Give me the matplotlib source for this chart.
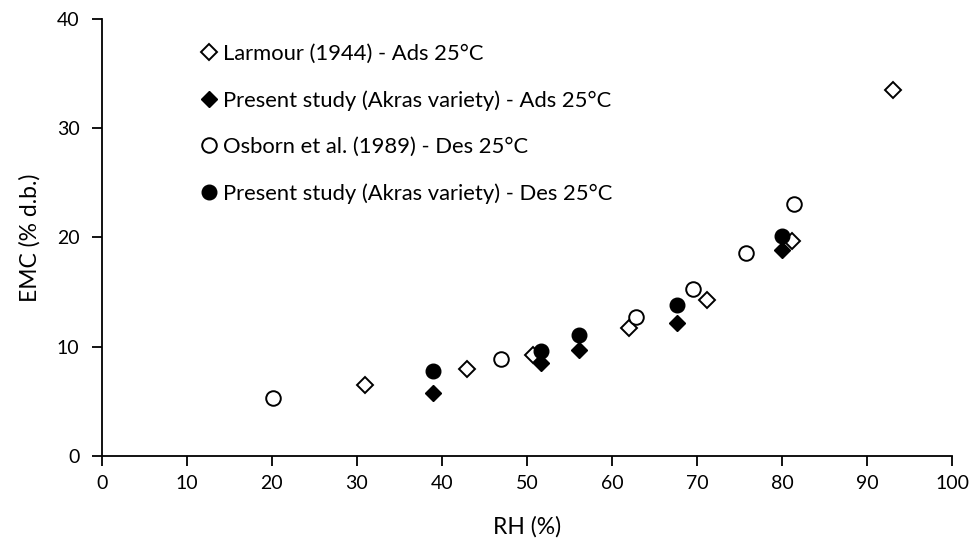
import matplotlib
matplotlib.use("Agg")
import matplotlib.pyplot as plt

plt.rcParams['font.family'] = ['Lato', 'DejaVu Sans']

# Larmour (1944) - adsorption 25 C
larmour_rh = [31, 43, 50.7, 62, 71.2, 81.1, 93]
larmour_emc = [6.5, 8.0, 9.2, 11.7, 14.3, 19.7, 33.5]

# present study - adsorption 25 C
ads_rh = [39, 51.7, 56.1, 67.6, 80]
ads_emc = [5.8, 8.5, 9.7, 12.2, 18.85]

# Osborn et al. (1989) - desorption 25 C
osborn_rh = [20.1, 46.9, 62.8, 69.5, 75.7, 81.4]
osborn_emc = [5.35, 8.9, 12.7, 15.3, 18.55, 23.05]

# present study - desorption 25 C
des_rh = [39, 51.7, 56.1, 67.6, 80]
des_emc = [7.8, 9.65, 11.1, 13.8, 20.1]

fig = plt.figure(figsize=(9.74, 5.42), dpi=100)
ax = fig.add_axes([0.1044, 0.1587, 0.8733, 0.8063])

ax.plot(larmour_rh, larmour_emc, 'D', ms=8, mfc='white', mec='black', mew=1.4,
        ls='none', label='Larmour (1944) - Ads 25°C')
ax.plot(ads_rh, ads_emc, 'D', ms=8, mfc='black', mec='black',
        ls='none', label='Present study (Akras variety) - Ads 25°C')
ax.plot(osborn_rh, osborn_emc, 'o', ms=10.5, mfc='white', mec='black', mew=1.4,
        ls='none', label='Osborn et al. (1989) - Des 25°C')
ax.plot(des_rh, des_emc, 'o', ms=10.5, mfc='black', mec='black',
        ls='none', label='Present study (Akras variety) - Des 25°C')

ax.set_xlim(0, 100)
ax.set_ylim(0, 40)
ax.set_xticks(range(0, 101, 10))
ax.set_yticks(range(0, 41, 10))
ax.spines['top'].set_visible(False)
ax.spines['right'].set_visible(False)
for s in ['left', 'bottom']:
    ax.spines[s].set_linewidth(1.3)
ax.tick_params(direction='out', length=7, width=1.3, labelsize=14)
ax.tick_params(axis='x', pad=7)
ax.tick_params(axis='y', pad=9)
ax.set_xlabel('RH (%)', fontsize=16.5)
ax.set_ylabel('EMC (% d.b.)', fontsize=16.5)
ax.xaxis.set_label_coords(0.5, -0.137)
ax.yaxis.set_label_coords(-0.072, 0.5)

ax.legend(loc='upper left', bbox_to_anchor=(0.206, 0.919), bbox_transform=fig.transFigure,
          frameon=False, fontsize=15.8, handlelength=0.8, handletextpad=0.2,
          labelspacing=1.2, borderaxespad=0, borderpad=0)

fig.savefig('out.png', dpi=100)
